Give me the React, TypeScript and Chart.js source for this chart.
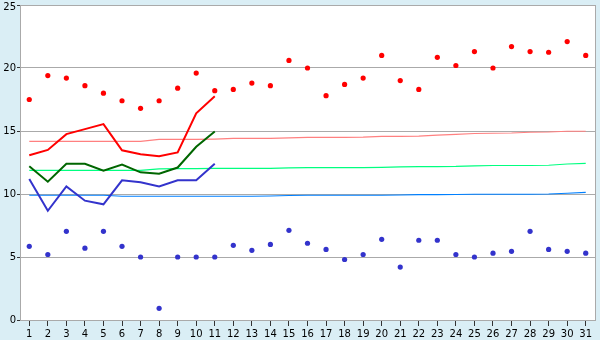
import React, { useEffect, useRef } from "react";
import { Chart, registerables } from "chart.js";

Chart.register(...registerables);

const days = Array.from({ length: 31 }, (_, i) => String(i + 1));

const maxPoints = [17.5, 19.4, 19.2, 18.6, 18.0, 17.4, 16.8, 17.4, 18.4, 19.6, 18.2, 18.3, 18.8, 18.6, 20.6, 20.0, 17.8, 18.7, 19.2, 21.0, 19.0, 18.3, 20.85, 20.2, 21.3, 20.0, 21.7, 21.3, 21.25, 22.1, 21.0];
const minPoints = [5.85, 5.2, 7.04, 5.7, 7.04, 5.85, 5.0, 0.93, 5.0, 5.0, 5.0, 5.93, 5.53, 6.0, 7.12, 6.09, 5.6, 4.8, 5.2, 6.4, 4.2, 6.33, 6.33, 5.2, 5.0, 5.3, 5.45, 7.04, 5.6, 5.45, 5.3];

const redLine = [13.07, 13.5, 14.75, 15.15, 15.55, 13.47, 13.15, 13.0, 13.3, 16.4, 17.75];
const greenLine = [12.2, 10.98, 12.4, 12.4, 11.85, 12.33, 11.72, 11.61, 12.1, 13.75, 14.96];
const blueLine = [11.2, 8.67, 10.6, 9.47, 9.18, 11.09, 10.93, 10.6, 11.09, 11.09, 12.4];

const pinkRef = [14.18, 14.18, 14.18, 14.18, 14.18, 14.18, 14.18, 14.33, 14.33, 14.33, 14.36, 14.42, 14.42, 14.42, 14.45, 14.5, 14.5, 14.5, 14.52, 14.58, 14.58, 14.6, 14.68, 14.74, 14.8, 14.82, 14.84, 14.9, 14.92, 14.98, 14.98];
const greenRef = [11.88, 11.88, 11.88, 11.88, 11.88, 11.88, 11.88, 12.0, 12.01, 12.02, 12.03, 12.03, 12.03, 12.04, 12.08, 12.1, 12.1, 12.1, 12.1, 12.12, 12.16, 12.18, 12.18, 12.19, 12.24, 12.26, 12.26, 12.26, 12.28, 12.38, 12.43];
const blueRef = [9.9, 9.9, 9.9, 9.9, 9.9, 9.82, 9.82, 9.82, 9.82, 9.82, 9.82, 9.82, 9.82, 9.84, 9.88, 9.9, 9.9, 9.9, 9.9, 9.9, 9.92, 9.95, 9.95, 9.96, 9.98, 9.98, 9.98, 9.98, 10.0, 10.06, 10.13];

const yTicks = [0, 5, 10, 15, 20, 25];
const yMax = 25;

const bgPlugin = {
  id: "bgPlugin",
  beforeDraw(chart: any) {
    const { ctx, chartArea, width, height } = chart;
    ctx.save();
    ctx.fillStyle = "#daeef5";
    ctx.fillRect(0, 0, width, height);
    ctx.fillStyle = "#ffffff";
    ctx.fillRect(chartArea.left, chartArea.top, chartArea.right - chartArea.left, chartArea.bottom - chartArea.top);
    ctx.restore();
  },
  afterDraw(chart: any) {
    const { ctx, chartArea } = chart;
    ctx.save();
    ctx.strokeStyle = "#aaaaaa";
    ctx.lineWidth = 1;
    ctx.beginPath();
    const x = Math.round(chartArea.right) + 0.5;
    ctx.moveTo(x, chartArea.top);
    ctx.lineTo(x, chartArea.bottom);
    ctx.stroke();
    // top tick label, nudged down so it is not clipped
    const yScale = chart.scales.y;
    ctx.fillStyle = "#000";
    ctx.font = "10px 'DejaVu Sans'";
    ctx.textAlign = "right";
    ctx.textBaseline = "middle";
    ctx.fillText(String(yMax), chartArea.left - 4, yScale.getPixelForValue(yMax) + 2.5);
    ctx.restore();
  },
};

export default function App() {
  const ref = useRef<HTMLCanvasElement>(null);
  useEffect(() => {
    document.body.style.margin = "0";
    const canvas = ref.current!;
    const lineDs = (label: string, data: number[], color: string, width: number, order: number) => ({
      type: "line" as const,
      label,
      data,
      borderColor: color,
      backgroundColor: color,
      borderWidth: width,
      pointRadius: 0,
      tension: 0,
      fill: false,
      order,
    });
    const ptDs = (label: string, data: number[], color: string) => ({
      type: "line" as const,
      label,
      data,
      showLine: false,
      borderColor: color,
      backgroundColor: color,
      pointRadius: 2.6,
      pointBorderWidth: 0,
      pointStyle: "circle",
      order: 0,
    });
    const chart = new Chart(canvas, {
      type: "line",
      data: {
        labels: days,
        datasets: [
          ptDs("max", maxPoints, "#ff0000"),
          ptDs("min", minPoints, "#3333cc"),
          lineDs("red", redLine, "#ff0000", 2, 1),
          lineDs("green", greenLine, "#006600", 2, 1),
          lineDs("blue", blueLine, "#3333cc", 2, 1),
          lineDs("pinkRef", pinkRef, "#ff8080", 1.2, 2),
          lineDs("greenRef", greenRef, "#00ff80", 1.2, 2),
          lineDs("blueRef", blueRef, "#0080ff", 1.2, 2),
        ] as any,
      },
      options: {
        animation: false,
        responsive: false,
        layout: { padding: { top: 5, right: 5, left: 0, bottom: 0 } },
        plugins: { legend: { display: false }, tooltip: { enabled: false } },
        scales: {
          x: {
            type: "category",
            offset: true,
            grid: { offset: false, drawOnChartArea: false, drawTicks: true, tickLength: 6, color: "#333333" },
            border: { color: "#aaaaaa" },
            ticks: { color: "#000", font: { family: "DejaVu Sans", size: 10 }, padding: 2, maxRotation: 0, autoSkip: false },
            afterFit(scale: any) {
              scale.height = 20;
              scale.paddingLeft = 0;
              scale.paddingRight = 0;
            },
          },
          y: {
            min: 0,
            max: yMax,
            afterBuildTicks(scale: any) {
              scale.ticks = yTicks.map((v) => ({ value: v }));
            },
            grid: { color: "#aaaaaa", tickLength: 3, tickColor: "#333333" },
            border: { color: "#aaaaaa" },
            ticks: {
              color: "#000",
              font: { family: "DejaVu Sans", size: 10 },
              padding: 1,
              callback: (v: any) => (Number(v) === yMax ? "" : String(v)),
            },
            afterFit(scale: any) {
              scale.width = 20;
              scale.paddingTop = 0;
              scale.paddingBottom = 0;
            },
          },
        },
      },
      plugins: [bgPlugin],
    });
    return () => chart.destroy();
  }, []);
  return (
    <div style={{ width: 600, height: 340 }}>
      <canvas ref={ref} width={600} height={340} style={{ display: "block" }} />
    </div>
  );
}
